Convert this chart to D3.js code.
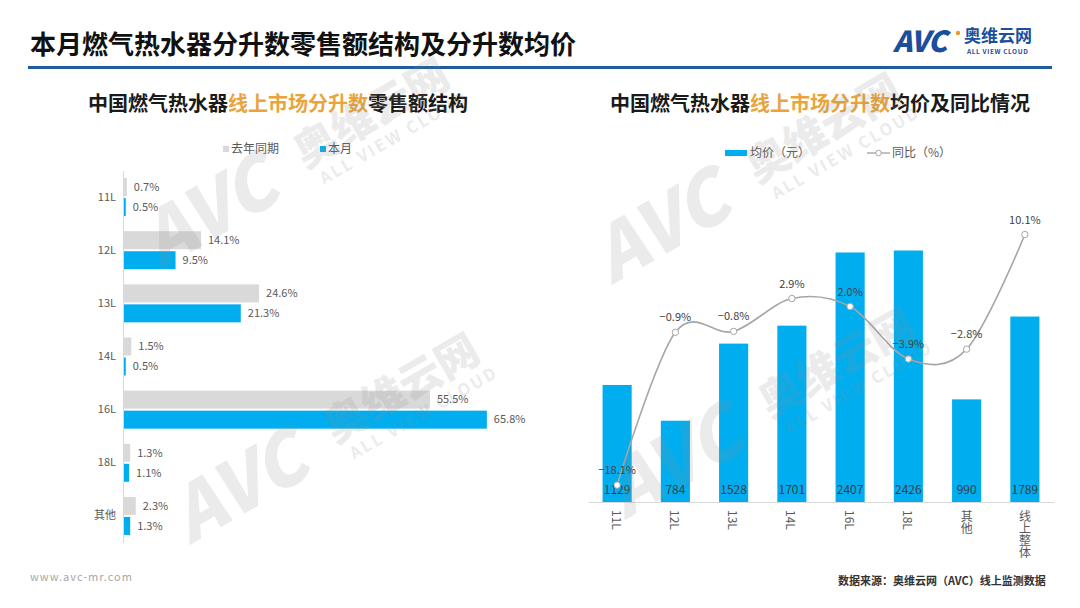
<!DOCTYPE html>
<html><head><meta charset="utf-8">
<script src="https://cdn.jsdelivr.net/npm/d3@7"></script>
<style>
body{margin:0;background:#fff}
text{font-family:"Noto Sans CJK SC","Noto Sans",sans-serif}
</style>
</head><body>
<svg id="c" width="1080" height="608"></svg>
<script>
// ---- data ----
const leftCats = ["11L","12L","13L","14L","16L","18L","其他"];
const lastYear = [0.7,14.1,24.6,1.5,55.5,1.3,2.3];
const thisMonth = [0.5,9.5,21.3,0.5,65.8,1.1,1.3];
const leftLegend = ["去年同期","本月"];

const rightCats = ["11L","12L","13L","14L","16L","18L","其他","线上整体"];
const avgPrice = [1129,784,1528,1701,2407,2426,990,1789];
const yoy = [-18.1,-0.9,-0.8,2.9,2.0,-3.9,-2.8,10.1];
const rightLegend = ["均价（元）","同比（%）"];

const BLUE = "#00AEEF", GRAY = "#D9D9D9", ORANGE = "#E9A43C", TXT = "#595959";
const svg = d3.select("#c");
const pct = v => d3.format(".1f")(v) + "%";

// ---- watermarks (drawn first, faint) ----
function watermark(x,y,s){
  const g = svg.append("g").attr("transform",`translate(${x},${y}) rotate(-30) scale(${s})`)
    .attr("opacity",0.16).attr("pointer-events","none");
  g.append("text").attr("x",0).attr("y",0).attr("font-size",90).attr("font-weight",900)
    .attr("font-style","italic").attr("font-family","DejaVu Sans").attr("fill","#8a8a8a").text("AVC");
  g.append("text").attr("x",215).attr("y",-18).attr("font-size",52).attr("font-weight",900)
    .attr("fill","#8a8a8a").text("奥维云网");
  g.append("text").attr("x",225).attr("y",10).attr("font-size",20).attr("font-weight",700)
    .attr("fill","#8a8a8a").attr("letter-spacing",3).text("ALL VIEW CLOUD");
}

// ---- header ----
svg.append("text").attr("x",30).attr("y",54).attr("font-size",26).attr("font-weight",700)
  .attr("fill","#111").text("本月燃气热水器分升数零售额结构及分升数均价");
svg.append("rect").attr("x",28).attr("y",66).attr("width",1024).attr("height",3).attr("fill","#1F5C99");

// logo
const logo = svg.append("g");
logo.append("text").attr("x",893).attr("y",52).attr("font-size",29).attr("font-weight",900)
  .attr("font-style","italic").attr("fill","#1B4F9C").attr("font-family","DejaVu Sans").attr("letter-spacing",-1).text("AVC");
logo.append("circle").attr("cx",958).attr("cy",33).attr("r",2.2).attr("fill","#F29A1F");
logo.append("text").attr("x",964).attr("y",42).attr("font-size",17).attr("font-weight",700)
  .attr("fill","#1B4F9C").text("奥维云网");
logo.append("text").attr("x",967).attr("y",54).attr("font-size",6.5).attr("font-weight",700)
  .attr("fill","#1B4F9C").attr("letter-spacing",0.6).text("ALL VIEW CLOUD");

// subtitles
function subtitle(x, parts){
  const t = svg.append("text").attr("x",x).attr("y",111).attr("text-anchor","middle")
    .attr("font-size",20).attr("font-weight",700);
  parts.forEach(p => t.append("tspan").attr("fill",p[1]).text(p[0]));
}
subtitle(278,[["中国燃气热水器","#1a1a1a"],["线上市场分升数",ORANGE],["零售额结构","#1a1a1a"]]);
subtitle(820,[["中国燃气热水器","#1a1a1a"],["线上市场分升数",ORANGE],["均价及同比情况","#1a1a1a"]]);

// ---- left chart ----
const lx = d3.scaleLinear().domain([0,70]).range([123,123+70*5.53]);
const ly = d3.scaleBand().domain(leftCats).range([170.5,542.5]);
const L = svg.append("g");
leftCats.forEach((c,i)=>{
  const cy = ly(c) + ly.bandwidth()/2;
  L.append("rect").attr("x",lx(0)).attr("y",cy-19).attr("width",lx(lastYear[i])-lx(0)).attr("height",18).attr("fill",GRAY);
  L.append("rect").attr("x",lx(0)).attr("y",cy+1).attr("width",lx(thisMonth[i])-lx(0)).attr("height",18).attr("fill",BLUE);
  L.append("text").attr("x",lx(lastYear[i])+7).attr("y",cy-10).attr("dy","0.35em").attr("font-size",11)
    .attr("fill",TXT).text(pct(lastYear[i]));
  L.append("text").attr("x",lx(thisMonth[i])+7).attr("y",cy+10).attr("dy","0.35em").attr("font-size",11)
    .attr("fill",TXT).text(pct(thisMonth[i]));
});
const lAxis = L.append("g").attr("transform",`translate(${lx(0)},0)`)
  .call(d3.axisLeft(ly).tickSize(0).tickPadding(7));
lAxis.select(".domain").attr("stroke","#D9D9D9");
lAxis.selectAll("text").attr("font-size",11).attr("fill",TXT);

// left legend
[[223,GRAY],[320,BLUE]].forEach((d,i)=>{
  svg.append("rect").attr("x",d[0]).attr("y",146).attr("width",6).attr("height",6).attr("fill",d[1]);
  svg.append("text").attr("x",d[0]+8).attr("y",149).attr("dy","0.35em").attr("font-size",12)
    .attr("fill",TXT).text(leftLegend[i]);
});

// ---- right chart ----
const rx = d3.scaleBand().domain(rightCats).range([588,1054]).paddingInner(0.5).paddingOuter(0.25);
const ry = d3.scaleLinear().domain([0,3000]).range([502,191]);
const ry2 = d3.scaleLinear().domain([-20,15]).range([502,191]);
const R = svg.append("g");
R.selectAll("rect.bar").data(avgPrice).join("rect").attr("class","bar")
  .attr("x",(d,i)=>rx(rightCats[i])).attr("width",rx.bandwidth())
  .attr("y",d=>ry(d)).attr("height",d=>ry(0)-ry(d)).attr("fill",BLUE);
R.selectAll("text.val").data(avgPrice).join("text").attr("class","val")
  .attr("x",(d,i)=>rx(rightCats[i])+rx.bandwidth()/2).attr("y",494)
  .attr("text-anchor","middle").attr("font-size",12).attr("fill","#3a3a3a").text(d=>d);
const rAxis = R.append("g").attr("transform",`translate(0,${ry(0)})`)
  .call(d3.axisBottom(rx).tickSize(0).tickPadding(8));
rAxis.select(".domain").attr("stroke","#D9D9D9");
rAxis.selectAll("text").attr("font-size",12).attr("fill",TXT)
  .style("writing-mode","vertical-rl").attr("dy",null).attr("y",8).attr("text-anchor","start");

// yoy line
const cx = i => rx(rightCats[i]) + rx.bandwidth()/2;
const line = d3.line().x((d,i)=>cx(i)).y(d=>ry2(d)).curve(d3.curveCardinal.tension(0));
R.append("path").attr("d",line(yoy)).attr("fill","none").attr("stroke","#A6A6A6").attr("stroke-width",1.6);
R.selectAll("circle.pt").data(yoy).join("circle").attr("class","pt")
  .attr("cx",(d,i)=>cx(i)).attr("cy",d=>ry2(d)).attr("r",3.2)
  .attr("fill","#fff").attr("stroke","#A6A6A6").attr("stroke-width",1);
R.selectAll("text.yoy").data(yoy).join("text").attr("class","yoy")
  .attr("x",(d,i)=>cx(i)).attr("y",d=>ry2(d)-11)
  .attr("text-anchor","middle").attr("font-size",11).attr("fill","#404040").text(d=>pct(d));

// right legend
svg.append("rect").attr("x",725).attr("y",150).attr("width",22).attr("height",6).attr("fill",BLUE);
svg.append("text").attr("x",750).attr("y",153).attr("dy","0.35em").attr("font-size",12).attr("fill",TXT).text(rightLegend[0]);
svg.append("line").attr("x1",867).attr("x2",890).attr("y1",153).attr("y2",153).attr("stroke","#A6A6A6").attr("stroke-width",1.4);
svg.append("circle").attr("cx",878.5).attr("cy",153).attr("r",2.8).attr("fill","#fff").attr("stroke","#A6A6A6");
svg.append("text").attr("x",892).attr("y",153).attr("dy","0.35em").attr("font-size",12).attr("fill",TXT).text(rightLegend[1]);

// ---- footer ----
svg.append("text").attr("x",30).attr("y",581).attr("font-size",11).attr("fill","#A8A8A8")
  .attr("letter-spacing",1).attr("font-family","DejaVu Sans Mono").text("www.avc-mr.com");
svg.append("text").attr("x",838).attr("y",585).attr("font-size",11).attr("font-weight",700)
  .attr("fill","#333").text("数据来源：奥维云网（AVC）线上监测数据");

// watermarks on top, very faint
watermark(160,270,0.82);
watermark(190,545,0.82);
watermark(612,285,0.82);
watermark(625,520,0.82);
</script>
</body></html>
